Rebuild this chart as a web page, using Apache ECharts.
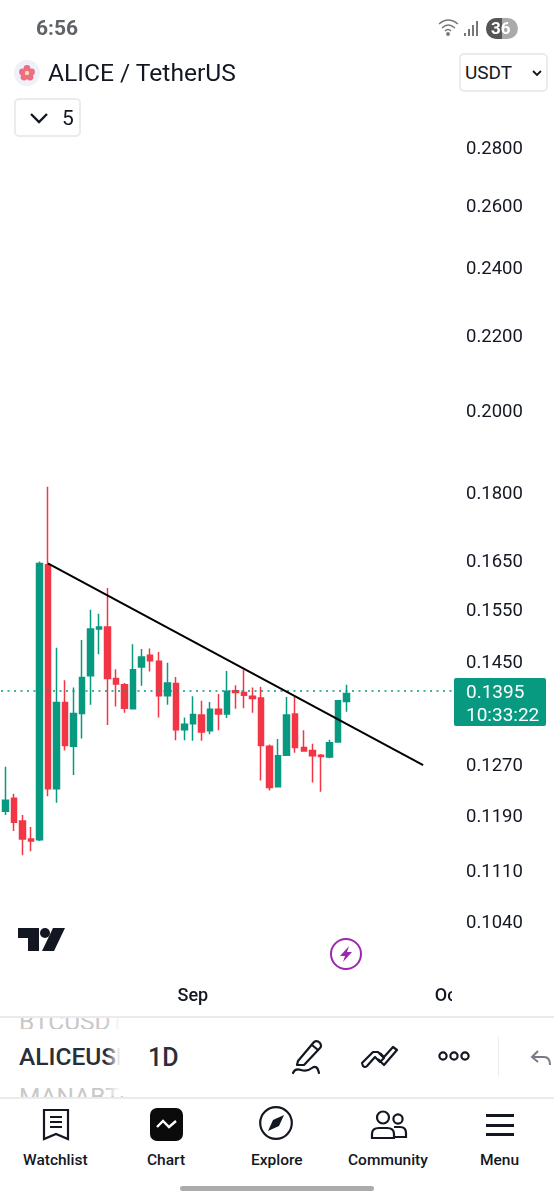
<!DOCTYPE html>
<html>
<head>
<meta charset="utf-8">
<script src="https://cdn.jsdelivr.net/npm/echarts@6/dist/echarts.min.js"></script>
<style>
  html, body { margin: 0; padding: 0; background: #fff; font-family: Roboto, sans-serif; color: #131722; }
  #page { position: relative; width: 554px; height: 1200px; overflow: hidden; }
  #main { position: absolute; left: 0; top: 0; width: 554px; height: 1016px; }
  .t { position: absolute; white-space: nowrap; line-height: 1; }
  .box { position: absolute; box-sizing: border-box; border: 2px solid #ebebeb; border-radius: 5px; background: #fff; }
  .rule { position: absolute; background: #ebebeb; }
  svg { position: absolute; overflow: visible; }
  .nav { font-size: 15.5px; font-weight: 500; top: 1153px; }
  .pick { left: 19px; width: 104px; overflow: hidden; font-size: 24.5px; font-weight: 400; color: #c8c8c8; }
  #pricetag { position: absolute; left: 454px; top: 678px; width: 92px; height: 48px; background: #089981; border-radius: 2px; color: #fff; font-size: 19px; line-height: 23px; padding: 2px 0 0 12px; box-sizing: border-box; }
</style>
</head>
<body>
<div id="page">
  <div id="main"></div>

  <div class="t" style="left:36px;top:18px;font-size:21px;font-weight:700;color:#5f6368;">6:56</div>
  <svg style="left:438px;top:18px" width="22" height="20" fill="none" stroke="#777" stroke-width="1.4">
    <path d="M1 6 Q10 -2 20 6M4 10 Q10 4 17 10M7 13 Q10 10 13 13"/><circle cx="10" cy="16" r="1.2" fill="#777"/>
  </svg>
  <svg style="left:464px;top:20px" width="15" height="17" fill="#777">
    <rect x="0" y="13" width="2" height="3"/><rect x="4" y="9" width="2" height="7"/><rect x="8" y="5" width="2" height="11"/><rect x="12" y="1" width="2" height="15"/>
  </svg>
  <svg style="left:486px;top:18px" width="32" height="21">
    <rect width="32" height="21" rx="10.5" fill="#aaa"/>
    <path d="M16 0H10.5A10.5 10.5 0 0 0 10.5 21H16Z" fill="#555"/>
  </svg>
  <div class="t" style="left:491px;top:20px;font-size:17px;font-weight:700;color:#fff;">36</div>

  <svg style="left:14px;top:60px" width="26" height="26">
    <circle cx="13" cy="13" r="13" fill="#eef1f8"/>
    <g fill="#ec6d85"><circle cx="13" cy="8.5" r="3.4"/><circle cx="8.5" cy="12" r="3.4"/><circle cx="17.5" cy="12" r="3.4"/><circle cx="10" cy="17" r="3.4"/><circle cx="16" cy="17" r="3.4"/></g>
    <circle cx="13" cy="13" r="2.2" fill="#f8df9a"/>
  </svg>
  <div class="t" style="left:48px;top:61px;font-size:24.6px;">ALICE / TetherUS</div>

  <div class="box" style="left:459px;top:53px;width:89px;height:39px;"></div>
  <div class="t" style="left:465px;top:63px;font-size:19px;">USDT</div>
  <svg style="left:532px;top:70px" width="10" height="7" fill="none" stroke="#131722" stroke-width="1.8"><path d="M1 1 L5 5 L9 1"/></svg>

  <div class="box" style="left:14px;top:98px;width:67px;height:39px;"></div>
  <svg style="left:30px;top:113px" width="18" height="11" fill="none" stroke="#131722" stroke-width="2.4"><path d="M1 1 L9 9 L17 1"/></svg>
  <div class="t" style="left:62px;top:108px;font-size:21px;">5</div>

  <div id="pricetag"></div>

  <svg style="left:0;top:0" width="80" height="960" fill="#131722">
    <path d="M18 928H39V951H28V938H18Z"/><circle cx="45" cy="933" r="5"/><path d="M53 928H65L54 951H42Z"/>
  </svg>
  <svg style="left:330px;top:938px" width="32" height="32" fill="none">
    <circle cx="16" cy="16" r="15" stroke="#9c27b0" stroke-width="2"/>
    <path d="M19 8 L10 18 H15 L13 24 L22 14 H17 Z" fill="#9c27b0"/>
  </svg>

  <div class="rule" style="left:0;top:1016px;width:554px;height:2px;"></div>
  <div class="pick t" style="top:1018px;height:11px;"><div style="margin-top:-8px">BTCUSDT</div></div>
  <div class="pick t" style="top:1045px;color:#2a2e39;font-weight:500;">ALICEUSDT</div>
  <div class="pick t" style="top:1085px;height:12px;"><div>MANABTC</div></div>
  <div style="position:absolute;left:106px;top:1018px;width:18px;height:78px;background:linear-gradient(to right,rgba(255,255,255,0),#fff 80%);"></div>
  <div class="t" style="left:148px;top:1045px;font-size:25px;font-weight:500;color:#2a2e39;">1D</div>

  <svg style="left:292px;top:1039px" width="32" height="36" fill="none" stroke="#131722" stroke-width="2.2" stroke-linejoin="round" stroke-linecap="round">
    <path d="M6 22 L22 3 Q25 1 28 4 Q30 7 28 9 L12 26 L5 26 Z"/><path d="M20 6 L26 11"/>
    <path d="M1 34 Q3 29 9 31 T20 29 T27 34"/>
  </svg>
  <svg style="left:361px;top:1045px" width="38" height="24" fill="none" stroke="#131722" stroke-width="2.2" stroke-linejoin="round">
    <path d="M1 18 L12 7 L17 7 L23 13 L19 17 L14 12 L6 21 Q4 23 2 21 Z"/><path d="M17 14 L23 20 L36 5 L32 2 L23 12 L19 8"/>
  </svg>
  <svg style="left:438px;top:1049px" width="32" height="14" fill="none" stroke="#131722" stroke-width="2.2">
    <circle cx="5" cy="7" r="3.6"/><circle cx="16" cy="7" r="3.6"/><circle cx="27" cy="7" r="3.6"/>
  </svg>
  <div class="rule" style="left:498px;top:1037px;width:1px;height:39px;"></div>
  <svg style="left:530px;top:1049px" width="22" height="18" fill="none" stroke="#787b86" stroke-width="2">
    <path d="M8 2 L2 8 L8 13M2 8 H14 Q20 8 20 16"/>
  </svg>
  <div class="rule" style="left:0;top:1097px;width:554px;height:2px;"></div>

  <svg style="left:43px;top:1109px" width="26" height="32" fill="none" stroke="#131722" stroke-width="2.2">
    <path d="M1 1 H25 V30 L13 25 L1 30 Z"/><path d="M7 8 H19M7 13 H19M7 18 H19"/>
  </svg>
  <svg style="left:150px;top:1108px" width="33" height="33">
    <rect width="33" height="33" rx="7" fill="#0b0b0b"/>
    <path d="M7 19 L13 13 L19 19 L26 13" fill="none" stroke="#fff" stroke-width="2.4"/>
  </svg>
  <svg style="left:259px;top:1106px" width="34" height="34" fill="none">
    <circle cx="17" cy="17" r="15.8" stroke="#131722" stroke-width="2.2"/>
    <path d="M25 9 L20 20 L9 25 L14 14 Z" fill="#131722"/>
  </svg>
  <svg style="left:371px;top:1110px" width="36" height="30" fill="none" stroke="#131722" stroke-width="2.2">
    <circle cx="12" cy="7.5" r="6"/><circle cx="27" cy="9" r="4.6"/>
    <path d="M1 28 V24 Q1 18 8 18 H16 Q23 18 23 24 V28 Z"/><path d="M23 17 H29 Q35 17 35 23 V27 H23"/>
  </svg>
  <svg style="left:486px;top:1113px" width="29" height="24" fill="#131722">
    <rect y="1" width="28" height="3"/><rect y="11" width="28" height="3"/><rect y="20" width="28" height="3"/>
  </svg>
  <div class="t nav" style="left:23px;">Watchlist</div>
  <div class="t nav" style="left:147px;">Chart</div>
  <div class="t nav" style="left:251px;">Explore</div>
  <div class="t nav" style="left:348px;">Community</div>
  <div class="t nav" style="left:480px;">Menu</div>
  <div style="position:absolute;left:180px;top:1186px;width:194px;height:5px;border-radius:3px;background:#ababab;"></div>
</div>

<script>
const categories = [
  '08-10', '08-11', '08-12', '08-13', '08-14', '08-15', '08-16', '08-17', '08-18', '08-19', '08-20',
  '08-21', '08-22', '08-23', '08-24', '08-25', '08-26', '08-27', '08-28', '08-29', '08-30', '08-31',
  '09-01', '09-02', '09-03', '09-04', '09-05', '09-06', '09-07', '09-08', '09-09', '09-10', '09-11',
  '09-12', '09-13', '09-14', '09-15', '09-16', '09-17', '09-18', '09-19', '09-20', '09-21', '09-22',
  '09-23', '09-24', '09-25', '09-26', '09-27', '09-28', '09-29', '09-30', '10-01'
]
const opens = [
  0.1200, 0.1220, 0.1185, 0.1158, 0.1157, 0.1645, 0.1235, 0.1379, 0.1304, 0.1360, 0.1427,
  0.1515, 0.1519, 0.1422, 0.1411, 0.1368, 0.1443, 0.1465, 0.1454, 0.1391, 0.1413, 0.1332,
  0.1342, 0.1357, 0.1330, 0.1367, 0.1359, 0.1400, 0.1397, 0.1390, 0.1387, 0.1304, 0.1238,
  0.1289, 0.1359, 0.1302, 0.1297, 0.1289, 0.1286, 0.1311, 0.1381
]
const closes = [
  0.1217, 0.1183, 0.1158, 0.1155, 0.1648, 0.1235, 0.1379, 0.1305, 0.1360, 0.1424, 0.1515,
  0.1519, 0.1422, 0.1412, 0.1369, 0.1438, 0.1462, 0.1455, 0.1391, 0.1414, 0.1332, 0.1341,
  0.1358, 0.1328, 0.1367, 0.1359, 0.1399, 0.1397, 0.1392, 0.1386, 0.1305, 0.1237, 0.1288,
  0.1357, 0.1302, 0.1296, 0.1288, 0.1287, 0.1310, 0.1382, 0.1395
]
const lows = [
  0.1194, 0.1170, 0.1134, 0.1140, 0.1155, 0.1223, 0.1213, 0.1297, 0.1257, 0.1317, 0.1375,
  0.1467, 0.1340, 0.1372, 0.1361, 0.1367, 0.1409, 0.1435, 0.1353, 0.1375, 0.1314, 0.1314,
  0.1313, 0.1313, 0.1324, 0.1331, 0.1352, 0.1368, 0.1369, 0.1361, 0.1248, 0.1232, 0.1238,
  0.1289, 0.1293, 0.1296, 0.1245, 0.1230, 0.1284, 0.1310, 0.1363
]
const highs = [
  0.1270, 0.1227, 0.1194, 0.1176, 0.1652, 0.1818, 0.1479, 0.1419, 0.1406, 0.1494, 0.1553,
  0.1545, 0.1597, 0.1439, 0.1414, 0.1486, 0.1477, 0.1478, 0.1471, 0.1451, 0.1425, 0.1353,
  0.1390, 0.1382, 0.1380, 0.1394, 0.1436, 0.1410, 0.1438, 0.1406, 0.1407, 0.1307, 0.1316,
  0.1389, 0.1389, 0.1331, 0.1308, 0.1291, 0.1315, 0.1382, 0.1411
]
const priceTicks = [0.104, 0.111, 0.119, 0.127, 0.145, 0.155, 0.165, 0.18, 0.2, 0.22, 0.24, 0.26, 0.28]
const monthLabels = { '09-01': 'Sep', '10-01': 'Oct' }
const trendLine = [['08-15', 0.1648], ['09-28', 0.1273]]
const lastPrice = 0.1395
const countdown = '10:33:22'

const upColor = '#089981'
const downColor = '#f23645'

document.getElementById('pricetag').innerHTML = lastPrice.toFixed(4) + '<br>' + countdown

let myChart = echarts.init(document.getElementById('main'))
let options = {
  animation: false,
  backgroundColor: 'transparent',
  textStyle: { fontFamily: 'Roboto' },
  grid: { left: 1, right: 101, top: 131.5, bottom: 39.5 },
  graphic: [{
    // the time scale stops at the price axis and cuts the last label
    type: 'rect',
    z: 100,
    shape: { x: 452, y: 980, width: 30, height: 30 },
    style: { fill: '#fff' }
  }],
  xAxis: {
    type: 'category',
    data: categories,
    axisLine: { show: false },
    axisTick: { show: false },
    splitLine: { show: false },
    axisLabel: {
      interval: 0,
      margin: 11,
      color: '#131722',
      fontSize: 18,
      fontWeight: 500,
      formatter: (value) => monthLabels[value] || ''
    }
  },
  yAxis: {
    type: 'log',
    logBase: 10,
    min: 0.0971,
    max: 0.2865,
    position: 'right',
    axisLine: { show: false },
    axisTick: { show: false },
    splitLine: { show: false },
    minorTick: { show: false },
    minorSplitLine: { show: false },
    axisLabel: {
      customValues: priceTicks,
      margin: 13,
      color: '#131722',
      fontSize: 18.5,
      formatter: (value) => value.toFixed(4)
    }
  },
  series: [{
    type: 'candlestick',
    barWidth: 6,
    itemStyle: {
      color: upColor,
      color0: downColor,
      borderColor: upColor,
      borderColor0: downColor,
      borderWidth: 1.5
    },
    data: opens.map((open, i) => [open, closes[i], lows[i], highs[i]]),
    markLine: {
      silent: true,
      symbol: 'none',
      animation: false,
      label: { show: false },
      data: [
        { yAxis: lastPrice, lineStyle: { color: upColor, width: 1.5, type: [2, 4.5] } },
        [
          { coord: trendLine[0], lineStyle: { color: '#000', width: 2, type: 'solid' } },
          { coord: trendLine[1] }
        ]
      ]
    }
  }]
}
myChart.setOption(options)
</script>
</body>
</html>
